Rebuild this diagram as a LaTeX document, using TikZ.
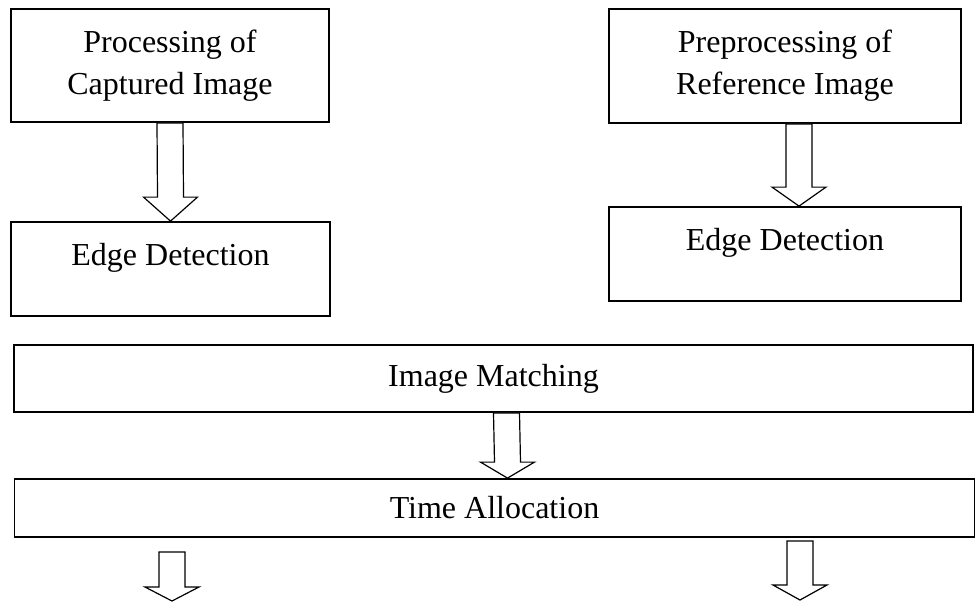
\documentclass[tikz,border=0pt]{standalone}
\usepackage{fontspec}
\setmainfont{Liberation Serif}
\usetikzlibrary{positioning,calc}

\tikzset{
  stage/.style={draw, line width=0.9pt, align=center, inner sep=0pt,
    font=\fontsize{16}{21}\selectfont},
  hollow/.style={draw, line width=0.6pt, fill=white, line join=miter},
}
% hollow block arrow: start, tip, head length
\newcommand{\hollowarrow}[3]{%
  \draw[hollow] ($#1+(-13,0)$) -- ($#2+(-13,-#3)$) -- ($#2+(-27,-#3)$) -- #2
    -- ($#2+(27,-#3)$) -- ($#2+(13,-#3)$) -- ($#1+(13,0)$) -- cycle;
}

\begin{document}
\begin{tikzpicture}[x=0.5pt, y=-0.5pt]
        \useasboundingbox (0,0) rectangle (976,602);
        % Captured image branch
        \node[stage, minimum width=159pt, minimum height=56.5pt] (cap) at (170,65.5) {Processing of\\Captured Image};
        \node[stage, minimum width=159.5pt, minimum height=47pt, text height=12pt, text depth=16pt] (capedge) at (170.5,269) {Edge Detection};
        % Reference image branch
        \node[stage, minimum width=176pt, minimum height=57pt] (ref) at (785,66) {Preprocessing of\\Reference Image};
        \node[stage, minimum width=176pt, minimum height=47pt, text height=12pt, text depth=16pt] (refedge) at (785,254) {Edge Detection};
        % Matching and allocation
        \node[stage, minimum width=479.5pt, minimum height=33.5pt] (match) at (493.5,378.5) {Image Matching};
        \node[stage, minimum width=480pt, minimum height=29pt] (time) at (494.5,508) {Time Allocation};
        \coordinate (refout) at ([xshift=7pt]ref.south);
        \coordinate (refin) at ([xshift=7pt]refedge.north);
        \coordinate (matchout) at ([xshift=6.5pt]match.south);
        \coordinate (timein) at ([xshift=6.5pt]time.north);
        \coordinate (outL) at (172,552);
        \coordinate (endL) at (172,601);
        \coordinate (outR) at (800,541);
        \coordinate (endR) at (800,600);
        % Arrows
        \hollowarrow{(cap.south)}{(capedge.north)}{24}
        \hollowarrow{(refout)}{(refin)}{19}
        \hollowarrow{(matchout)}{(timein)}{16}
        \hollowarrow{(outL)}{(endL)}{14}
        \hollowarrow{(outR)}{(endR)}{15}
\end{tikzpicture}
\end{document}
